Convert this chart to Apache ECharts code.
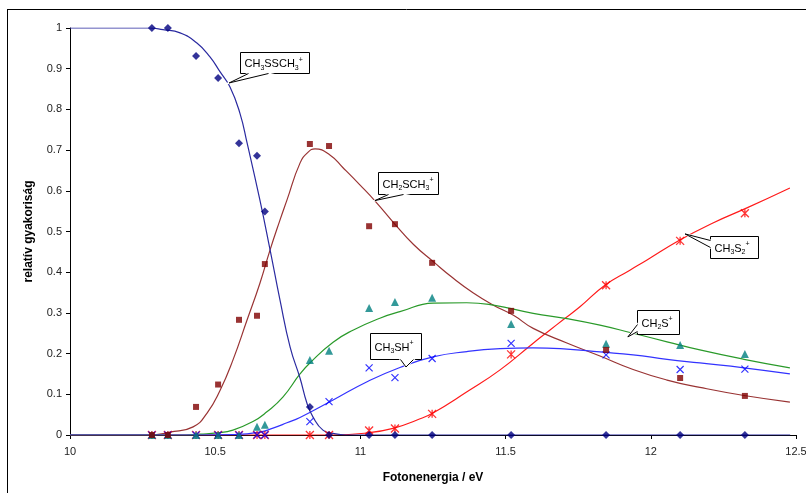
<!DOCTYPE html>
<html><head><meta charset="utf-8">
<script src="https://cdn.jsdelivr.net/npm/echarts@6/dist/echarts.min.js"></script>
<style>html,body{margin:0;padding:0;background:#fff}#c{width:806px;height:493px}</style>
</head><body><div id="c"></div>
<script>
// ---- measured points ----
const energies = [10.282, 10.337, 10.434, 10.510, 10.582, 10.644, 10.671, 10.826, 10.892, 11.030, 11.119, 11.247, 11.519, 11.846, 12.101, 12.324];
const ptCH3SSCH3 = [1.0, 1.0, 0.931, 0.877, 0.717, 0.686, 0.549, 0.069, 0, 0, 0, 0, 0, 0, 0, 0];
const ptCH2SCH3 = [0, 0, 0.069, 0.124, 0.283, 0.293, 0.420, 0.715, 0.710, 0.513, 0.518, 0.423, 0.305, 0.209, 0.140, 0.096];
const ptCH2S = [0, 0, 0, 0, 0, 0.020, 0.025, 0.184, 0.207, 0.312, 0.327, 0.337, 0.273, 0.224, 0.221, 0.199];
const ptCH3SH = [0, 0, 0, 0, 0, 0, 0, 0.033, 0.082, 0.165, 0.141, 0.188, 0.225, 0.197, 0.161, 0.162];
const ptCH3S2 = [0, 0, 0, 0, 0, 0, 0, 0, 0, 0.011, 0.016, 0.052, 0.198, 0.368, 0.477, 0.545];

// ---- fitted curves ----
const fitCH3SSCH3_x = [10.0, 10.275, 10.32, 10.379, 10.437, 10.482, 10.517, 10.551, 10.585, 10.610, 10.654, 10.689, 10.723, 10.758, 10.792, 10.816, 10.837, 10.871, 10.906, 10.95, 11.2, 12.48];
const fitCH3SSCH3_y = [1.0, 1.0, 0.996, 0.988, 0.963, 0.929, 0.892, 0.855, 0.791, 0.717, 0.577, 0.455, 0.332, 0.216, 0.14, 0.078, 0.044, 0.012, 0.004, 0, 0, 0];
const fitCH2SCH3_x = [10.0, 10.275, 10.344, 10.424, 10.472, 10.517, 10.561, 10.610, 10.654, 10.689, 10.723, 10.747, 10.792, 10.820, 10.844, 10.895, 10.941, 10.999, 11.053, 11.114, 11.183, 11.251, 11.320, 11.389, 11.458, 11.527, 11.595, 11.711, 11.825, 11.939, 12.056, 12.169, 12.321, 12.479];
const fitCH2SCH3_y = [0, 0, 0.007, 0.02, 0.054, 0.11, 0.184, 0.283, 0.373, 0.455, 0.528, 0.577, 0.668, 0.695, 0.703, 0.688, 0.656, 0.614, 0.573, 0.522, 0.468, 0.426, 0.385, 0.349, 0.319, 0.294, 0.262, 0.226, 0.194, 0.161, 0.135, 0.117, 0.097, 0.081];
const fitCH2S_x = [10.0, 10.40, 10.448, 10.506, 10.561, 10.630, 10.678, 10.733, 10.792, 10.826, 10.906, 10.976, 11.067, 11.136, 11.251, 11.366, 11.458, 11.595, 11.711, 11.825, 11.939, 12.056, 12.169, 12.321, 12.479];
const fitCH2S_y = [0, 0, 0.002, 0.005, 0.012, 0.033, 0.057, 0.093, 0.150, 0.177, 0.228, 0.258, 0.287, 0.303, 0.324, 0.325, 0.319, 0.299, 0.286, 0.270, 0.250, 0.229, 0.209, 0.186, 0.165];
const fitCH3SH_x = [10.0, 10.45, 10.561, 10.654, 10.699, 10.747, 10.792, 10.906, 11.023, 11.136, 11.250, 11.367, 11.481, 11.594, 11.711, 11.825, 11.939, 12.056, 12.169, 12.321, 12.479];
const fitCH3SH_y = [0, 0, 0.001, 0.007, 0.017, 0.030, 0.043, 0.086, 0.131, 0.166, 0.192, 0.205, 0.212, 0.214, 0.211, 0.204, 0.197, 0.186, 0.177, 0.165, 0.150];
const fitCH3S2_x = [10.0, 10.906, 11.023, 11.116, 11.195, 11.250, 11.367, 11.481, 11.594, 11.653, 11.698, 11.756, 11.842, 11.928, 11.987, 12.100, 12.214, 12.331, 12.479];
const fitCH3S2_y = [0, 0, 0.005, 0.017, 0.037, 0.054, 0.106, 0.160, 0.225, 0.258, 0.283, 0.315, 0.368, 0.405, 0.430, 0.479, 0.521, 0.558, 0.607];

// ---- axes ----
const xTicks = [10, 10.5, 11, 11.5, 12, 12.5];
const yTicks = [0, 0.1, 0.2, 0.3, 0.4, 0.5, 0.6, 0.7, 0.8, 0.9, 1];

// ---- callouts: label, tip in data coords ----
const calloutText = ['CH{s|3}SSCH{s|3}{p|+}', 'CH{s|2}SCH{s|3}{p|+}', 'CH{s|3}S{s|2}{p|+}', 'CH{s|2}S{p|+}', 'CH{s|3}SH{p|+}'];
const calloutTipX = [10.548, 11.050, 12.118, 11.921, 11.157];
const calloutTipY = [0.865, 0.576, 0.494, 0.241, 0.167];

const FONT = '"Liberation Sans", Arial, sans-serif';
const zip = (a, b) => a.map((v, i) => [v, b[i]]);

const chart = echarts.init(document.getElementById('c'), null, {renderer: 'canvas'});

function curve(name, xs, ys, color) {
  return {type: 'line', name, data: zip(xs, ys), smooth: 0.5, showSymbol: false,
    lineStyle: {color, width: 1.2}, itemStyle: {color}, z: 2, silent: true, animation: false};
}
function pts(name, ys, symbol, size, style) {
  return {type: 'scatter', name, data: zip(energies, ys), symbol, symbolSize: size, itemStyle: style, z: 4, animation: false};
}

chart.setOption({
  backgroundColor: '#fff',
  animation: false,
  grid: {left: 70, right: 10, top: 28, bottom: 58, containLabel: false, outerBoundsMode: 'none'},
  xAxis: {
    type: 'value', min: xTicks[0], max: xTicks[xTicks.length - 1], interval: 0.5,
    name: 'Fotonenergia / eV', nameLocation: 'middle', nameGap: 37,
    nameTextStyle: {fontFamily: FONT, fontSize: 12, fontWeight: 'bold', color: '#000'},
    axisLine: {onZero: false, lineStyle: {color: '#000', width: 1}},
    axisTick: {show: true, inside: false, length: 4, lineStyle: {color: '#000'}},
    axisLabel: {fontFamily: FONT, fontSize: 11, color: '#222', margin: 11},
    splitLine: {show: false}
  },
  yAxis: {
    type: 'value', min: yTicks[0], max: yTicks[yTicks.length - 1], interval: 0.1,
    name: 'relatív gyakoriság', nameLocation: 'middle', nameGap: 35, nameRotate: 90,
    nameTextStyle: {fontFamily: FONT, fontSize: 12, fontWeight: 'bold', color: '#000'},
    axisLine: {show: true, onZero: false, lineStyle: {color: '#000', width: 1}},
    axisTick: {show: true, inside: false, length: 4, lineStyle: {color: '#000'}},
    axisLabel: {fontFamily: FONT, fontSize: 11, color: '#222', margin: 8},
    splitLine: {show: false}
  },
  series: [
    curve('fit CH3S2+', fitCH3S2_x, fitCH3S2_y, '#ff1a1a'),
    curve('fit CH2SCH3+', fitCH2SCH3_x, fitCH2SCH3_y, '#993333'),
    curve('fit CH2S+', fitCH2S_x, fitCH2S_y, '#2a9a2a'),
    curve('fit CH3SH+', fitCH3SH_x, fitCH3SH_y, '#3333ff'),
    curve('fit CH3SSCH3+', fitCH3SSCH3_x, fitCH3SSCH3_y, '#2a2aa0'),
    pts('CH3S2+', ptCH3S2, 'path://M0,0L10,10M10,0L0,10M5,0L5,10', 8, {color: 'transparent', borderColor: '#ff0000', borderWidth: 1.3}),
    pts('CH3SH+', ptCH3SH, 'path://M0,0L10,10M10,0L0,10', 7, {color: 'transparent', borderColor: '#0000ff', borderWidth: 1.2}),
    pts('CH2S+', ptCH2S, 'triangle', 8, {color: '#008080'}),
    pts('CH2SCH3+', ptCH2SCH3, 'rect', 6, {color: '#800000'}),
    pts('CH3SSCH3+', ptCH3SSCH3, 'diamond', 8, {color: '#000080'})
  ]
});

// callout box geometry relative to tip (pixels): [dx, dy, w, h, side, b1, b2]
const calloutBox = [
  [11, -31, 69, 21, 'bottom', 8, 28],
  [3, -29, 60, 22, 'bottom', 10, 25],
  [25, 2, 48, 22, 'left', 4, 11],
  [9, -27, 42, 24, 'left', 14, 21],
  [-36, -34, 51, 26, 'bottom', 30, 43]
];

const elements = [
  {type: 'line', shape: {x1: 7.5, y1: 9, x2: 7.5, y2: 493}, style: {stroke: '#000', lineWidth: 1}, z: 200},
  {type: 'line', shape: {x1: 7, y1: 9.5, x2: 806, y2: 9.5}, style: {stroke: '#000', lineWidth: 1}, z: 200}
];
calloutText.forEach((t, i) => {
  const tip = chart.convertToPixel({seriesIndex: 0}, [calloutTipX[i], calloutTipY[i]]);
  const [dx, dy, w, h, side, b1, b2] = calloutBox[i];
  const bx = Math.round(tip[0] + dx) + 0.5, by = Math.round(tip[1] + dy) + 0.5;
  let p1, p2;
  if (side === 'bottom') { p1 = [bx + b1, by + h]; p2 = [bx + b2, by + h]; }
  else { p1 = [bx, by + b1]; p2 = [bx, by + b2]; }
  elements.push({type: 'rect', shape: {x: bx, y: by, width: w, height: h}, style: {fill: '#fff', stroke: '#000', lineWidth: 1}, z: 100});
  elements.push({type: 'polygon', shape: {points: [p1, tip, p2]}, style: {fill: '#fff', stroke: '#fff', lineWidth: 2}, z: 101});
  elements.push({type: 'polyline', shape: {points: [p1, tip, p2]}, style: {stroke: '#000', fill: null, lineWidth: 1}, z: 102});
  elements.push({type: 'text', x: bx + 4, y: by + h / 2 + 1, z: 103, style: {
    text: t, fill: '#000', fontFamily: FONT, fontSize: 11, verticalAlign: 'middle', align: 'left',
    lineHeight: 15,
    rich: {
      s: {fontSize: 7, fontFamily: FONT, fill: '#000', verticalAlign: 'bottom', lineHeight: 9},
      p: {fontSize: 7, fontFamily: FONT, fill: '#000', verticalAlign: 'top', lineHeight: 9}
    }
  }});
});
chart.setOption({graphic: {elements}});
</script></body></html>
